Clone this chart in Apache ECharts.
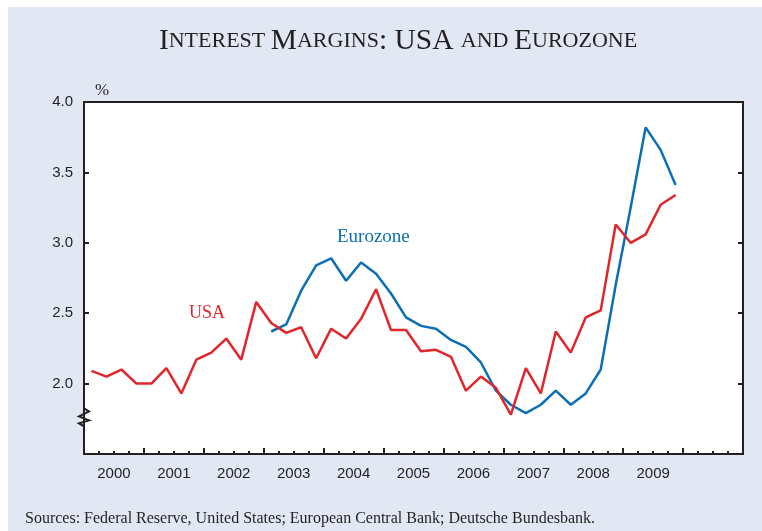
<!DOCTYPE html>
<html>
<head>
<meta charset="utf-8">
<script src="https://cdn.jsdelivr.net/npm/echarts@6/dist/echarts.min.js"></script>
<style>
    html, body { margin: 0; padding: 0; background: #fff; }
    #chart { width: 762px; height: 531px; }
</style>
</head>
<body>
<div id="chart"></div>
<script>
    // quarterly data, 2000 Q1 .. 2009 Q4
    var years = ['2000', '2001', '2002', '2003', '2004', '2005', '2006', '2007', '2008', '2009', ''];
    var usa = [
        2.09, 2.05, 2.10, 2.00,
        2.00, 2.11, 1.93, 2.17,
        2.22, 2.32, 2.17, 2.58,
        2.43, 2.36, 2.40, 2.18,
        2.39, 2.32, 2.46, 2.67,
        2.38, 2.38, 2.23, 2.24,
        2.19, 1.95, 2.05, 1.97,
        1.78, 2.11, 1.93, 2.37,
        2.22, 2.47, 2.52, 3.13,
        3.00, 3.06, 3.27, 3.34
    ];
    var eurozone = [
        null, null, null, null,
        null, null, null, null,
        null, null, null, null,
        2.37, 2.42, 2.66, 2.84,
        2.89, 2.73, 2.86, 2.78,
        2.64, 2.47, 2.41, 2.39,
        2.31, 2.26, 2.15, 1.95,
        1.85, 1.79, 1.85, 1.95,
        1.85, 1.93, 2.10, 2.70,
        3.25, 3.82, 3.66, 3.41
    ];
    var yTicks = [1.5, 2.0, 2.5, 3.0, 3.5, 4.0];

    var ink = '#231f20';
    var serif = '"Liberation Serif", "DejaVu Serif", serif';
    var sans = '"Liberation Sans", Arial, sans-serif';

    // each quarter sits in the middle of its slot on the time axis
    function toPoints(arr) {
        return arr.map(function (v, i) {
            return [2000 + Math.floor(i / 4) + ((i % 4) + 0.5) / 4, v];
        });
    }

    var chart = echarts.init(document.getElementById('chart'));

    var option = {
        backgroundColor: '#ffffff',
        animation: false,
        title: {
            text: '{b|I}{s|NTEREST }{b|M}{s|ARGINS}{b|: USA }{s|AND }{b|E}{s|UROZONE}',
            left: 393,
            top: 21,
            textAlign: 'center',
            textStyle: {
                fontWeight: 'normal',
                rich: {
                    b: { fontFamily: serif, fontSize: 29.5, fontWeight: 'normal', color: ink },
                    s: { fontFamily: serif, fontSize: 22, fontWeight: 'normal', color: ink }
                }
            }
        },
        grid: {
            show: true,
            left: 84,
            top: 102,
            right: 19,
            bottom: 77,
            backgroundColor: '#ffffff',
            borderColor: ink,
            borderWidth: 2
        },
        xAxis: [
            {
                type: 'value',
                min: 2000,
                max: 2011,
                interval: 1,
                position: 'bottom',
                axisLine: { show: false },
                splitLine: { show: false },
                axisLabel: { show: false },
                axisTick: { show: true, inside: true, length: 6, lineStyle: { color: ink, width: 2 } },
                minorTick: { show: true, splitNumber: 4, length: 3, lineStyle: { color: ink, width: 2 } }
            },
            {
                type: 'category',
                data: years,
                boundaryGap: true,
                position: 'bottom',
                axisLine: { show: false },
                axisTick: { show: false },
                splitLine: { show: false },
                axisLabel: { color: ink, fontFamily: sans, fontSize: 15, margin: 12 }
            }
        ],
        yAxis: [
            {
                type: 'value',
                min: yTicks[0],
                max: yTicks[yTicks.length - 1],
                interval: 0.5,
                position: 'left',
                axisLine: { show: false },
                splitLine: { show: false },
                axisTick: { show: true, inside: true, length: 5, lineStyle: { color: ink, width: 2 } },
                axisLabel: {
                    color: ink, fontFamily: sans, fontSize: 15, margin: 11,
                    formatter: function (v) { return v === yTicks[0] ? '' : v.toFixed(1); }
                }
            },
            {
                type: 'value',
                min: yTicks[0],
                max: yTicks[yTicks.length - 1],
                interval: 0.5,
                position: 'right',
                axisLine: { show: false },
                splitLine: { show: false },
                axisLabel: { show: false },
                axisTick: { show: true, inside: true, length: 5, lineStyle: { color: ink, width: 2 } }
            }
        ],
        series: [
            {
                name: 'USA',
                type: 'line',
                data: toPoints(usa),
                showSymbol: false,
                lineStyle: { color: '#e0252b', width: 2.5 },
                z: 3
            },
            {
                name: 'Eurozone',
                type: 'line',
                data: toPoints(eurozone),
                showSymbol: false,
                connectNulls: false,
                lineStyle: { color: '#0b6fb6', width: 2.5 },
                z: 2
            }
        ]
    };

    chart.setOption(option);

    // axis break mark on the left axis, placed through the y scale
    var gx = chart.convertToPixel({ xAxisIndex: 0 }, 2000);
    var gy = chart.convertToPixel({ yAxisIndex: 0 }, 1.76);

    chart.setOption({
        graphic: [
            { type: 'rect', z: -10, silent: true, shape: { x: 8, y: 7, width: 754, height: 524 }, style: { fill: '#e1e8f3' } },
            { type: 'text', left: 95, top: 82, style: { text: '%', font: '17px ' + serif, fill: ink } },
            { type: 'text', left: 189, top: 304, style: { text: 'USA', font: '18px ' + serif, fill: '#e0252b' } },
            { type: 'text', left: 337, top: 228, style: { text: 'Eurozone', font: '19px ' + serif, fill: '#0b6fb6' } },
            {
                type: 'polyline',
                z: 50,
                shape: { points: [[gx, gy - 9], [gx + 5, gy - 6], [gx - 5, gy - 1], [gx + 5, gy + 3], [gx - 5, gy + 6], [gx, gy + 9]] },
                style: { stroke: ink, lineWidth: 2, fill: null }
            },
            {
                type: 'text', left: 25, top: 511,
                style: { text: 'Sources: Federal Reserve, United States; European Central Bank; Deutsche Bundesbank.', font: '16px ' + serif, fill: ink }
            }
        ]
    });
</script>
</body>
</html>
